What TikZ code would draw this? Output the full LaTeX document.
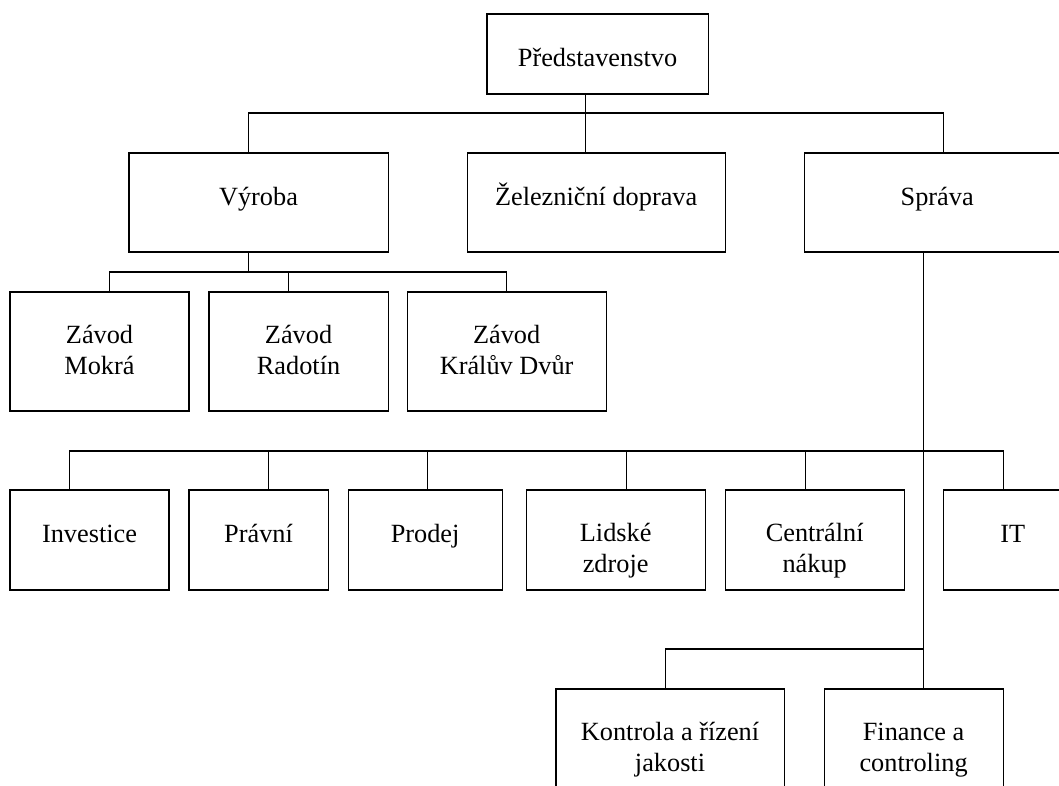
\documentclass[tikz,border=0pt]{standalone}
\usepackage{fontspec}
\setmainfont{Liberation Serif}
\usepackage{tikz}
\usetikzlibrary{positioning}

\begin{document}
\begin{tikzpicture}[
        x=0.025cm, y=-0.025cm,
        every node/.style={font=\fontsize{18.7}{21.4}\selectfont},
        box/.style={rectangle, draw=black, line width=0.8pt, inner sep=0pt, outer sep=0pt, align=center, text height=1.3cm},
        boxtop/.style={box, text depth=0.7cm},
        boxmid/.style={box, text depth=1.175cm},
        boxplant/.style={box, text height=2.05cm, text depth=0.925cm},
        boxdept/.style={box, text depth=1.2cm},
        boxdepttwo/.style={box, text height=2.05cm, text depth=0.45cm},
        boxlow/.style={box, text height=2.05cm, text depth=1.0cm},
        link/.style={line width=0.8pt}
    ]
        \path[use as bounding box, clip] (0,0) rectangle (1059,785);

        \node[boxtop, anchor=north west, minimum width=5.525cm] (board) at (487,14) {Představenstvo};

        \node[boxmid, anchor=north west, minimum width=6.475cm] (vyroba) at (129,153) {Výroba};
        \node[boxmid, right=1.975cm of vyroba, minimum width=6.45cm] (doprava) {Železniční doprava};
        \node[boxmid, right=1.975cm of doprava, minimum width=6.65cm] (sprava) {Správa};

        \node[boxplant, anchor=north west, minimum width=4.475cm] (mokra) at (10,292) {Závod\\Mokrá};
        \node[boxplant, right=0.5cm of mokra, minimum width=4.475cm] (radotin) {Závod\\Radotín};
        \node[boxplant, right=0.475cm of radotin, minimum width=4.975cm] (kraluv) {Závod\\Králův Dvůr};

        \node[boxdept, anchor=north west, minimum width=3.975cm] (invest) at (10,490) {Investice};
        \node[boxdept, right=0.5cm of invest, minimum width=3.475cm] (pravni) {Právní};
        \node[boxdept, right=0.5cm of pravni, minimum width=3.85cm] (prodej) {Prodej};
        \node[boxdepttwo, right=0.6cm of prodej, minimum width=4.475cm] (lidske) {Lidské\\zdroje};
        \node[boxdepttwo, right=0.5cm of lidske, minimum width=4.475cm] (nakup) {Centrální\\nákup};
        \node[boxdept, right=0.975cm of nakup, minimum width=3.475cm] (it) {IT};

        \node[boxlow, anchor=north west, minimum width=5.7cm] (jakost) at (556,689) {Kontrola a řízení\\jakosti};
        \node[boxlow, right=1.0cm of jakost, minimum width=4.475cm] (finance) {Finance a\\controling};

        % board
        \draw[link] ([xshift=-0.29cm]board.south) -- ++(0,19) coordinate (bar1);
        \draw[link] (bar1) -| ([xshift=-0.26cm]vyroba.north);
        \draw[link] (bar1) -| ([xshift=0.15cm]sprava.north);
        \draw[link] (bar1) -- (bar1 |- doprava.north);

        % plants
        \draw[link] ([xshift=-0.24cm]vyroba.south) -- ++(0,20) coordinate (bar2);
        \draw[link] (bar2) -| ([xshift=0.24cm]mokra.north);
        \draw[link] (bar2) -| ([xshift=-0.26cm]radotin.north);
        \draw[link] (bar2) -| (kraluv.north);

        % departments
        \coordinate (spine) at ([xshift=-0.35cm]sprava.south);
        \draw[link] (spine) -- (spine |- finance.north);
        \path (spine) ++(0,199) coordinate (bar3);
        \draw[link] (bar3) -| ([xshift=-0.49cm]invest.north);
        \draw[link] (bar3) -| ([xshift=0.24cm]pravni.north);
        \draw[link] (bar3) -| ([xshift=0.05cm]prodej.north);
        \draw[link] (bar3) -| ([xshift=0.26cm]lidske.north);
        \draw[link] (bar3) -| ([xshift=-0.24cm]nakup.north);
        \draw[link] (bar3) -| ([xshift=-0.24cm]it.north);
        \path (spine) ++(0,397) coordinate (bar4);
        \draw[link] (bar4) -| ([xshift=-0.12cm]jakost.north);
    \end{tikzpicture}
\end{document}
